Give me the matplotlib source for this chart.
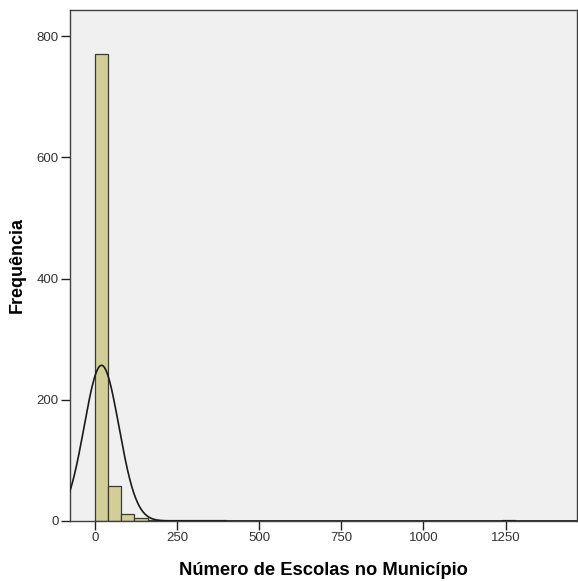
import matplotlib.pyplot as plt
import numpy as np

plt.rcParams['font.family'] = ['Liberation Sans', 'DejaVu Sans']

# Histogram data (bin width 40, starting at 0)
bin_edges = np.arange(0, 1281, 40)
counts = [770, 58, 12, 5, 2, 1, 1, 1, 1, 1,
          0, 0, 0, 0, 0, 0, 0, 0, 0, 0,
          0, 0, 0, 0, 0, 0, 0, 0, 0, 0,
          0, 1]

# Normal curve parameters
mean_val = 20
sd_val = 53
n_total = sum(counts)
bin_width = 40

fig = plt.figure(figsize=(5.78, 5.81), dpi=100)
ax = fig.add_axes([0.1211, 0.1033, 0.878, 0.8795])
ax.set_facecolor('#F0F0F0')

ax.bar(bin_edges[:-1], counts, width=bin_width, align='edge',
       color='#D3CE97', edgecolor='#3a3a3a', linewidth=0.9, zorder=2)

# Normal curve
xs = np.linspace(-80, 1480, 800)
ys = n_total * bin_width / (sd_val * np.sqrt(2 * np.pi)) * np.exp(-0.5 * ((xs - mean_val) / sd_val) ** 2)
ax.plot(xs, ys, color='#1a1a1a', linewidth=1.2, zorder=3)

ax.set_xlim(-76, 1469)
ax.set_ylim(0, 843)
ax.set_xticks([0, 250, 500, 750, 1000, 1250])
ax.set_yticks([0, 200, 400, 600, 800])

for s in ax.spines.values():
    s.set_color('#404040')
    s.set_linewidth(1.0)

ax.tick_params(direction='out', length=6.5, width=1, color='#202020',
               labelsize=9.5, labelcolor='#333333', pad=1.5)

ax.set_xlabel('Número de Escolas no Município', fontsize=13.2, fontweight='bold', labelpad=13)
ax.set_ylabel('Frequência', fontsize=13, fontweight='bold', labelpad=8)

fig.savefig('out.png', dpi=100)
